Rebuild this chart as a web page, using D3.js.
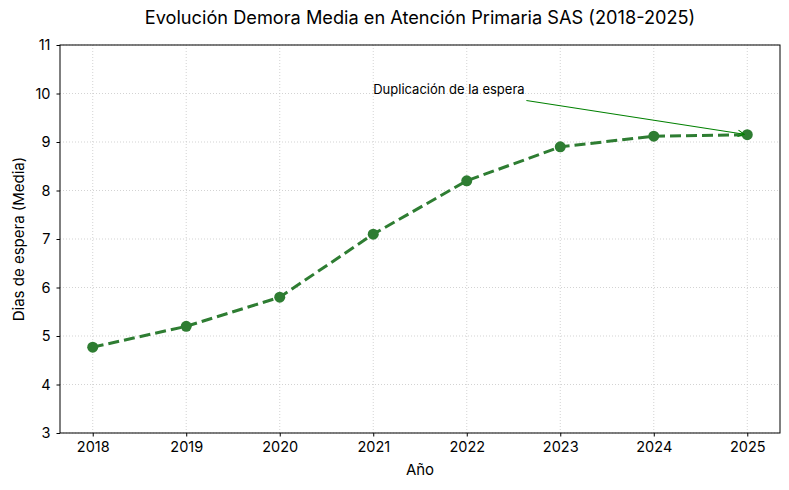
<!DOCTYPE html>
<html>
<head>
<meta charset="utf-8">
<script src="https://cdn.jsdelivr.net/npm/d3@7"></script>
<style>
  body { margin: 0; background: #fff; }
  svg { font-family: Inter, "Open Sans", sans-serif; }
</style>
</head>
<body>
<div id="chart"></div>
<script>
// data
const years = [2018, 2019, 2020, 2021, 2022, 2023, 2024, 2025];
const demora = [4.77, 5.2, 5.8, 7.1, 8.2, 8.9, 9.12, 9.15];
const yTicks = [3, 4, 5, 6, 7, 8, 9, 10, 11];
const note = { text: 'Duplicación de la espera', year: 2021, value: 10, targetYear: 2025, targetValue: 9.15 };

const W = 789, H = 490;
const margin = { top: 45, right: 9, bottom: 57, left: 60 };
const innerW = W - margin.left - margin.right;
const innerH = H - margin.top - margin.bottom;
const green = '#2e7d32';

const svg = d3.select('#chart').append('svg')
  .attr('width', W)
  .attr('height', H);

const g = svg.append('g')
  .attr('transform', `translate(${margin.left},${margin.top})`);

const x = d3.scaleLinear().domain([2017.65, 2025.35]).range([0, innerW]);
const y = d3.scaleLinear().domain([3, 11]).range([innerH, 0]);

// grid
g.append('g')
  .selectAll('line')
  .data(years)
  .join('line')
  .attr('x1', d => x(d)).attr('x2', d => x(d))
  .attr('y1', 0).attr('y2', innerH)
  .attr('stroke', '#c8c8c8').attr('stroke-width', 0.8)
  .attr('stroke-dasharray', '1,2');

g.append('g')
  .selectAll('line')
  .data(yTicks)
  .join('line')
  .attr('x1', 0).attr('x2', innerW)
  .attr('y1', d => y(d)).attr('y2', d => y(d))
  .attr('stroke', '#c8c8c8').attr('stroke-width', 0.8)
  .attr('stroke-dasharray', '1,2');

// axes
const xAxis = g.append('g')
  .attr('transform', `translate(0,${innerH})`)
  .call(d3.axisBottom(x).tickValues(years).tickFormat(d3.format('d')).tickSizeOuter(0).tickSize(3.5).tickPadding(5));

const yAxis = g.append('g')
  .call(d3.axisLeft(y).tickValues(yTicks).tickSizeOuter(0).tickSize(3.5).tickPadding(6));

[xAxis, yAxis].forEach(a => {
  a.attr('font-family', null).attr('font-size', null);
  a.selectAll('text').attr('fill', '#000').style('font-size', '14.5px');
  a.selectAll('line').attr('stroke', '#000');
  a.select('.domain').remove();
});

// frame
g.append('rect')
  .attr('width', innerW).attr('height', innerH)
  .attr('fill', 'none').attr('stroke', '#000').attr('stroke-width', 1);

// line + markers
const line = d3.line()
  .x((d, i) => x(years[i]))
  .y(d => y(d));

g.append('path')
  .datum(demora)
  .attr('d', line)
  .attr('fill', 'none')
  .attr('stroke', green)
  .attr('stroke-width', 3)
  .attr('stroke-dasharray', '11,5');

g.append('g')
  .selectAll('circle')
  .data(demora)
  .join('circle')
  .attr('cx', (d, i) => x(years[i]))
  .attr('cy', d => y(d))
  .attr('r', 5.5)
  .attr('fill', green);

// annotation
const label = g.append('text')
  .attr('x', x(note.year))
  .attr('y', y(note.value))
  .style('font-size', '13px')
  .attr('fill', '#000')
  .text(note.text);

const bb = label.node().getBBox();
const cx = bb.x + bb.width / 2, cy = bb.y + bb.height / 2;
const tx = x(note.targetYear), ty = y(note.targetValue);
// leave the text box along the line from its centre
const dx = tx - cx, dy = ty - cy;
const t = Math.min((bb.width / 2 + 4) / Math.abs(dx), (bb.height / 2 + 4) / Math.abs(dy));
const sx = cx + dx * t, sy = cy + dy * t;
const len = Math.hypot(dx, dy);
const ex = tx - dx / len * 3, ey = ty - dy / len * 3;

svg.append('defs').append('marker')
  .attr('id', 'arr')
  .attr('viewBox', '0 0 10 10')
  .attr('refX', 9).attr('refY', 5)
  .attr('markerWidth', 8).attr('markerHeight', 8)
  .attr('markerUnits', 'userSpaceOnUse')
  .attr('orient', 'auto')
  .append('path')
  .attr('d', 'M1,1 L9,5 L1,9')
  .attr('fill', 'none')
  .attr('stroke', 'green')
  .attr('stroke-width', 1.2);

g.append('line')
  .attr('x1', sx).attr('y1', sy)
  .attr('x2', ex).attr('y2', ey)
  .attr('stroke', 'green')
  .attr('stroke-width', 1.1)
  .attr('marker-end', 'url(#arr)');

// titles
svg.append('text')
  .attr('x', margin.left + innerW / 2)
  .attr('y', 24)
  .attr('text-anchor', 'middle')
  .style('font-size', '18.2px')
  .text('Evolución Demora Media en Atención Primaria SAS (2018-2025)');

svg.append('text')
  .attr('x', margin.left + innerW / 2)
  .attr('y', 475)
  .attr('text-anchor', 'middle')
  .style('font-size', '15px')
  .text('Año');

svg.append('text')
  .attr('transform', `translate(24,${margin.top + innerH / 2}) rotate(-90)`)
  .attr('text-anchor', 'middle')
  .style('font-size', '15px')
  .text('Dias de espera (Media)');
</script>
</body>
</html>
